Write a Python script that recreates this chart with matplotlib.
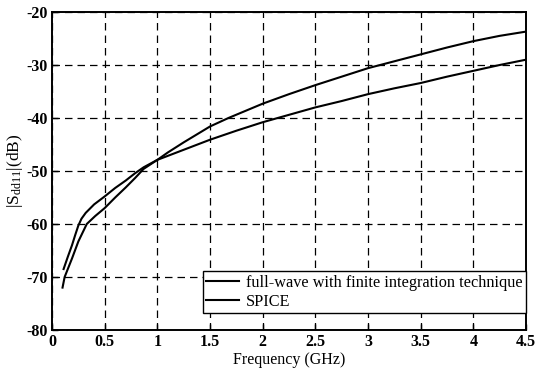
import matplotlib
matplotlib.use("Agg")
import matplotlib.pyplot as plt

plt.rcParams['font.family'] = ['Liberation Serif', 'DejaVu Serif']
plt.rcParams['mathtext.fontset'] = 'custom'
plt.rcParams['mathtext.rm'] = 'Liberation Serif'
plt.rcParams['mathtext.it'] = 'Liberation Serif'
plt.rcParams['axes.unicode_minus'] = False

# Data
freq_fw = [0.11, 0.15, 0.19, 0.22, 0.25, 0.28, 0.32, 0.4, 0.5, 0.6, 0.7, 0.79, 0.87, 1.0,
           1.25, 1.5, 1.75, 2.0, 2.25, 2.5, 2.75, 3.0, 3.25, 3.5, 3.75, 4.0, 4.25, 4.5]
s_fw = [-68.5, -66.2, -64.0, -62.1, -60.3, -59.0, -57.9, -56.3, -54.8, -53.2, -51.8, -50.4, -49.3, -47.9,
        -46.0, -44.1, -42.4, -40.8, -39.4, -38.0, -36.8, -35.5, -34.4, -33.4, -32.2, -31.1, -30.0, -29.0]

freq_sp = [0.1, 0.12, 0.19, 0.25, 0.33, 0.41, 0.5, 0.6, 0.7, 0.79, 0.87, 1.0, 1.1, 1.25, 1.5,
           1.675, 2.0, 2.25, 2.5, 2.75, 3.0, 3.25, 3.5, 3.75, 4.0, 4.25, 4.5]
s_sp = [-72.0, -70.0, -66.5, -63.3, -60.0, -58.5, -57.0, -55.0, -53.1, -51.3, -49.6, -47.9, -46.5, -44.6, -41.6,
        -40.0, -37.3, -35.5, -33.8, -32.2, -30.6, -29.3, -28.0, -26.7, -25.5, -24.5, -23.7]

labels = ['full-wave with finite integration technique', 'SPICE']
xticks = [0, 0.5, 1, 1.5, 2, 2.5, 3, 3.5, 4, 4.5]
xticklabels = ['0', '0.5', '1', '1.5', '2', '2.5', '3', '3.5', '4', '4.5']
yticks = [-80, -70, -60, -50, -40, -30, -20]

W, H = 541, 373
fig = plt.figure(figsize=(W / 100, H / 100), dpi=100)
left, right, top, bottom = 52, 526, 12, 330
ax = fig.add_axes([left / W, 1 - bottom / H, (right - left) / W, (bottom - top) / H])

ax.plot(freq_fw, s_fw, color='black', lw=1.5, label=labels[0])
ax.plot(freq_sp, s_sp, color='black', lw=1.5, label=labels[1])

ax.set_xlim(0, 4.5)
ax.set_ylim(-80, -20)
ax.set_xticks(xticks)
ax.set_xticklabels(xticklabels)
ax.set_yticks(yticks)
ax.grid(True, color='black', linestyle=(0, (6, 4)), linewidth=0.9)
for sp in ax.spines.values():
    sp.set_linewidth(1.4)
ax.tick_params(direction='in', length=4, width=1, labelsize=11.5, pad=3)
for t in ax.get_xticklabels() + ax.get_yticklabels():
    t.set_fontweight('bold')

ax.set_xlabel('Frequency (GHz)', fontsize=11.5, labelpad=1)
ax.set_ylabel(r'$|S_{dd11}|$(dB)', fontsize=12.5, labelpad=1)

leg = ax.legend(loc='lower right', bbox_to_anchor=(1.0, 0.053), fancybox=False, framealpha=1,
                edgecolor='black', fontsize=11.7, handlelength=2.0, handletextpad=0.45,
                borderaxespad=0, labelspacing=0.2, borderpad=0.2)
leg.get_frame().set_linewidth(1.0)

fig.savefig('out.png', dpi=100)
